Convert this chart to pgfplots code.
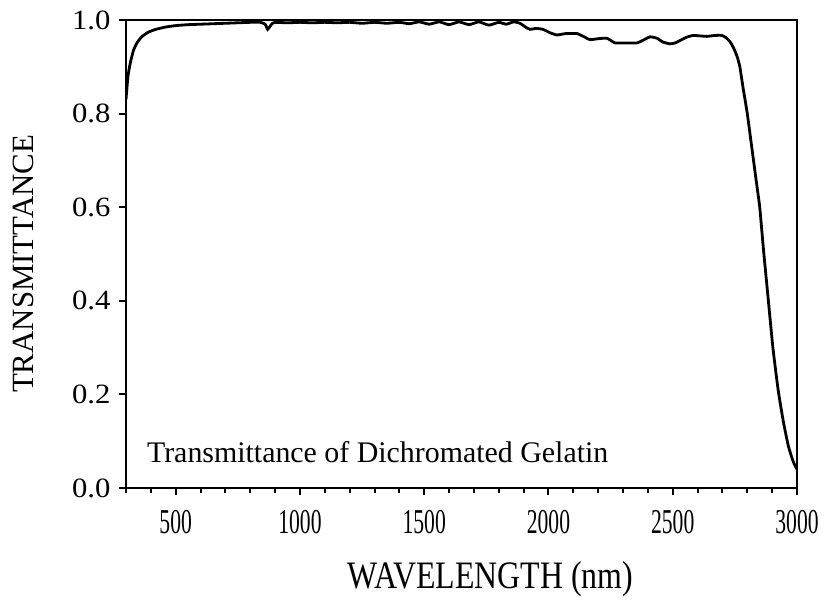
\documentclass[border=0pt]{standalone}
\usepackage{fontspec}
\setmainfont{Liberation Serif}
\newfontfamily\xtickfont[FakeStretch=0.62]{Liberation Serif}
\newfontfamily\ytickfont[FakeStretch=1.1]{Liberation Serif}
\newfontfamily\xlabfont[FakeStretch=0.82]{Liberation Serif}
\usepackage{pgfplots}
\pgfplotsset{compat=1.18}
\usetikzlibrary{calc}
\begin{document}
\begin{tikzpicture}
\begin{axis}[
  scale only axis,
  width=671bp, height=468bp,
  xmin=300, xmax=3000, ymin=0, ymax=1,
  axis line style={line width=2.6bp},
  xtick={500,1000,1500,2000,2500,3000},
  minor xtick={300,400,...,3000},
  ytick={0,0.2,0.4,0.6,0.8,1.0},
  xtick pos=bottom, ytick pos=left,
  tick align=outside,
  major tick length=7bp, minor tick length=5bp,
  every tick/.style={line width=2bp, black},
  /pgf/number format/assume math mode=true,
  xticklabel style={font=\xtickfont\fontsize{35}{40}\selectfont, /pgf/number format/1000 sep={}, yshift=-12bp},
  yticklabel style={font=\ytickfont\fontsize{28}{32}\selectfont, xshift=-5bp, /pgf/number format/.cd, fixed, fixed zerofill, precision=1},
  xlabel={WAVELENGTH (nm)},
  ylabel={TRANSMITTANCE},
  xlabel style={font=\xlabfont\fontsize{39}{44}\selectfont, at={(axis description cs:0.543,0)}, anchor=center, yshift=-91bp},
  ylabel style={font=\fontsize{31}{36}\selectfont, at={(axis description cs:-0.1535,0.479)}, anchor=center},
]
\addplot[line width=2.8bp, black, smooth, tension=0.3] coordinates {
(300,0.83) (308,0.88) (318,0.91) (330,0.935) (345,0.952) (365,0.965) (390,0.974) (420,0.980) (460,0.985) (500,0.988) (550,0.990) (600,0.991) (650,0.992) (700,0.993) (750,0.994) (800,0.995) (840,0.995) (860,0.991) (870,0.980) (880,0.987) (890,0.993) (900,0.995)
(950,0.994) (1000,0.995) (1050,0.994) (1100,0.995) (1150,0.994) (1200,0.995) (1250,0.993) (1300,0.995) (1350,0.993) (1400,0.995) (1440,0.992) (1480,0.996) (1520,0.991) (1560,0.996) (1600,0.990) (1640,0.996) (1680,0.990) (1720,0.996) (1760,0.989) (1800,0.995) (1830,0.991) (1860,0.996) (1885,0.993) (1910,0.984) (1926,0.980) (1950,0.982) (1978,0.980) (2005,0.973) (2034,0.968) (2070,0.971) (2115,0.971) (2140,0.965) (2167,0.958) (2200,0.960) (2235,0.961) (2268,0.951) (2310,0.951) (2356,0.951) (2385,0.958) (2409,0.964) (2437,0.961) (2460,0.953) (2489,0.949) (2510,0.951) (2529,0.956) (2555,0.963) (2582,0.967) (2610,0.966) (2638,0.965) (2670,0.967) (2698,0.967) (2715,0.962) (2730,0.954) (2745,0.940) (2759,0.922) (2770,0.900) (2783,0.855) (2800,0.800) (2815,0.740) (2835,0.660) (2850,0.600) (2865,0.510) (2883,0.410) (2903,0.300) (2924,0.210) (2944,0.145) (2965,0.090) (2985,0.056) (3000,0.040)
};
\node[anchor=west, font=\fontsize{30}{34}\selectfont, inner sep=0pt] at (axis cs:384,0.077) {Transmittance of Dichromated Gelatin};
\end{axis}
\path[use as bounding box] ($(current axis.south west)+(-126bp,-108bp)$) rectangle ($(current axis.north east)+(32bp,20bp)$);
\end{tikzpicture}
\end{document}
